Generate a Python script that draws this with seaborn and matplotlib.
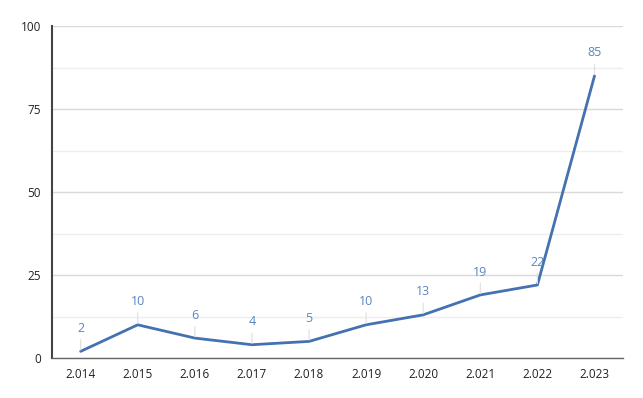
import matplotlib
matplotlib.use('Agg')

import matplotlib.pyplot as plt
import seaborn as sns
import numpy as np

years = ["2.014", "2.015", "2.016", "2.017", "2.018", "2.019", "2.020", "2.021", "2.022", "2.023"]
counts = [2, 10, 6, 4, 5, 10, 13, 19, 22, 85]

sns.set_theme(style="white")
plt.rcParams['font.family'] = ['Open Sans', 'DejaVu Sans']

fig = plt.figure(figsize=(6.43, 3.98), dpi=100)
ax = fig.add_axes([0.081, 0.1005, 0.888, 0.834])

pos = np.arange(len(years))

# leader lines from labels down to the points
for i, v in zip(pos, counts):
    ax.annotate(str(v), xy=(i, v), xytext=(0, 16.5), textcoords='offset points',
                ha='center', va='center', fontsize=9, color='#5a86c0',
                arrowprops=dict(arrowstyle='-', color='#dedede', lw=0.8,
                                shrinkA=1, shrinkB=1))

sns.lineplot(x=pos, y=counts, ax=ax, color='#4472b0', linewidth=2)

ax.set_xlim(-0.5, len(years) - 0.5)
ax.set_ylim(0, 100)
ax.set_xticks(pos)
ax.set_xticklabels(years)
ax.set_yticks([0, 25, 50, 75, 100])
ax.set_yticks([12.5, 37.5, 62.5, 87.5], minor=True)

ax.grid(axis='y', which='major', color='#d9d9d9', linewidth=1)
ax.grid(axis='y', which='minor', color='#eeeeee', linewidth=1)
ax.set_axisbelow(True)

for s in ['top', 'right']:
    ax.spines[s].set_visible(False)
ax.spines['left'].set_color('#444444')
ax.spines['left'].set_linewidth(1.5)
ax.spines['bottom'].set_color('#666666')
ax.spines['bottom'].set_linewidth(1)

ax.tick_params(axis='y', which='major', direction='inout', length=8, width=1.3,
               color='#222222', labelsize=8.5, labelcolor='#222222', pad=4)
ax.tick_params(axis='y', which='minor', length=0)
ax.tick_params(axis='x', length=0, labelsize=8.5, labelcolor='#222222', pad=7)

fig.savefig("out.png", dpi=100)
